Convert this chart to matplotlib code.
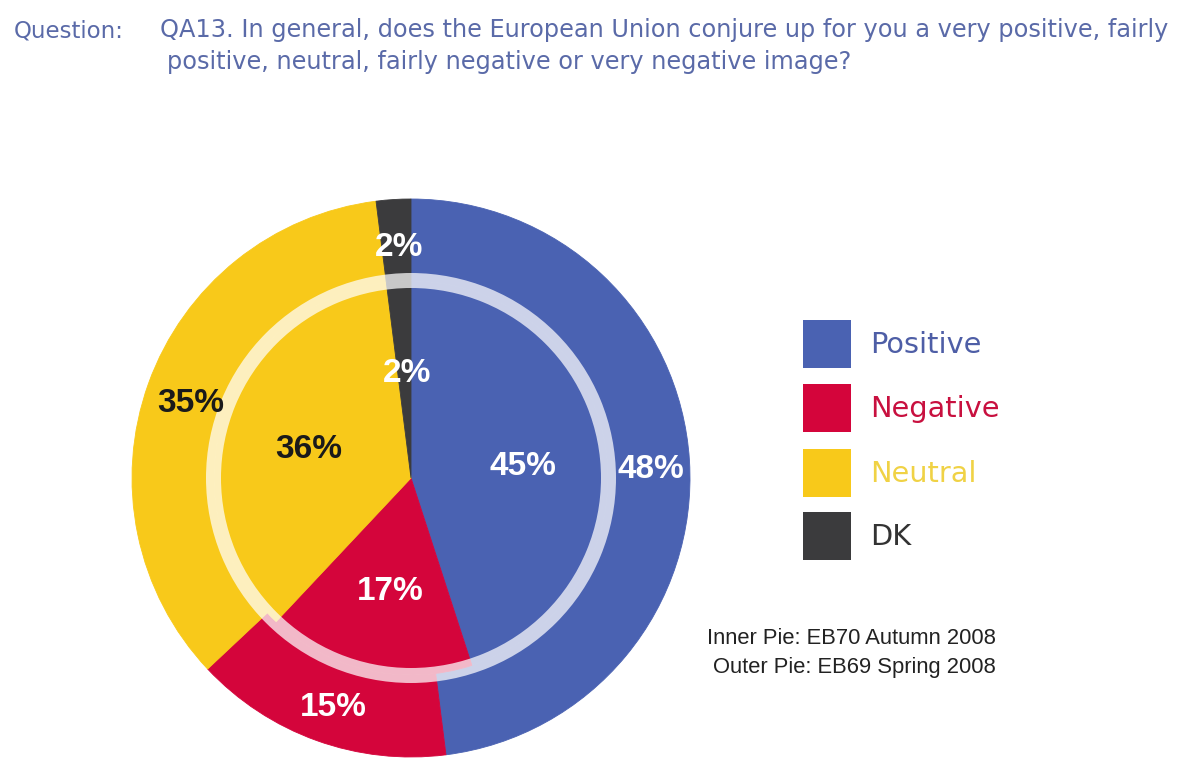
import matplotlib
matplotlib.use("Agg")
import matplotlib.pyplot as plt
from matplotlib.patches import Wedge, Rectangle
import numpy as np

# ---- data ----
categories = ["Positive", "Negative", "Neutral", "DK"]
outer_values = [48, 15, 35, 2]   # EB69 Spring 2008
inner_values = [45, 17, 36, 2]   # EB70 Autumn 2008
colors = ["#4a62b2", "#d4053b", "#f8c91a", "#3b3b3d"]
label_colors_pct = ["white", "white", "#1a1a1a", "white"]
legend_text_colors = ["#4e5ea6", "#c8103f", "#f0d245", "#333333"]
title_q = "Question:"
title_lines = ["QA13. In general, does the European Union conjure up for you a very positive, fairly",
               "positive, neutral, fairly negative or very negative image?"]
foot_lines = ["Inner Pie: EB70 Autumn 2008", "Outer Pie: EB69 Spring 2008"]

W, H = 1178, 758
fig = plt.figure(figsize=(W / 100, H / 100), dpi=100)
fig.patch.set_facecolor("white")
ax = fig.add_axes([0, 0, 1, 1])

cx, cy = 411, H - 478
R_out = 279
R_in = 197

pct_font = dict(family=["Liberation Sans", "DejaVu Sans"], fontsize=24, fontweight="bold")

w_out, _, t_out = ax.pie(outer_values, radius=R_out, center=(cx, cy), startangle=90,
                         counterclock=False, colors=colors, autopct="%d%%", pctdistance=0.85,
                         wedgeprops=dict(width=R_out - R_in, linewidth=0.6), textprops=pct_font,
                         frame=True)
w_in, _, t_in = ax.pie(inner_values, radius=R_in, center=(cx, cy), startangle=90,
                       counterclock=False, colors=colors, autopct="%d%%", pctdistance=0.56,
                       wedgeprops=dict(linewidth=0.6), textprops=pct_font, frame=True)
for ws, ts in ((w_out, t_out), (w_in, t_in)):
    for w, t, c, tc in zip(ws, ts, colors, label_colors_pct):
        w.set_edgecolor(c)
        t.set_color(tc)
        x, y = t.get_position()
        t.set_position((x + 3, y - 6))

ax.set_xlim(0, W)
ax.set_ylim(0, H)
ax.set_aspect("equal")
ax.axis("off")

# translucent ring
ax.add_patch(Wedge((cx, cy), 205, 0, 360, width=15, facecolor="white", edgecolor="none",
                   alpha=0.72, zorder=3))
for t in list(t_out) + list(t_in):
    t.set_zorder(5)

# legend
box = 48
x0 = 803
tops = [320, 384, 449, 512]
for cat, col, tcol, top in zip(categories, colors, legend_text_colors, tops):
    ax.add_patch(Rectangle((x0, H - top - box), box, box, facecolor=col, edgecolor="none"))
    ax.text(870, H - top - box / 2 - 1, cat, fontsize=20.7, color=tcol,
            family=["DejaVu Sans"], va="center", ha="left")

# title
tfont = ["DejaVu Sans Condensed", "Liberation Sans Narrow", "DejaVu Sans"]
tcol = "#5a6aa8"
ax.text(14, H - 37, title_q, fontsize=16.5, color=tcol, family=tfont, va="baseline", ha="left")
ax.text(160, H - 37, title_lines[0], fontsize=17.3, color=tcol, family=tfont, va="baseline", ha="left")
ax.text(167, H - 69, title_lines[1], fontsize=17.3, color=tcol, family=tfont, va="baseline", ha="left")

# footnote
fnt = ["Liberation Sans Narrow", "Liberation Sans"]
ax.text(996, H - 638, foot_lines[0], fontsize=15.8, color="#222222", family=fnt, ha="right", va="center")
ax.text(996, H - 668, foot_lines[1], fontsize=15.8, color="#222222", family=fnt, ha="right", va="center")

fig.savefig("out.png", dpi=100, facecolor="white")
